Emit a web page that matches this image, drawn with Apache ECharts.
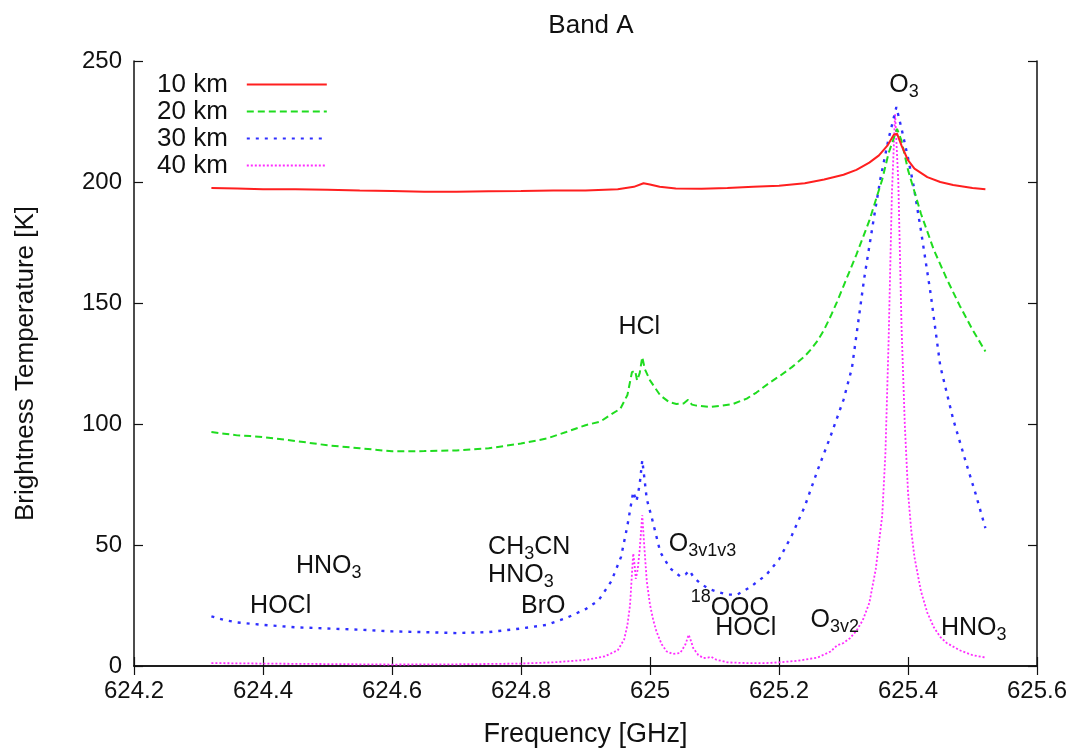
<!DOCTYPE html>
<html>
<head>
<meta charset="utf-8">
<script src="https://cdn.jsdelivr.net/npm/echarts@6/dist/echarts.min.js"></script>
<style>
html,body{margin:0;padding:0;background:#fff;}
#chart{width:1083px;height:753px;}
</style>
</head>
<body>
<div id="chart"></div>
<script>
// ---- data (frequency GHz, brightness temperature K) ----
var seriesNames = ['10 km', '20 km', '30 km', '40 km'];

var km10 = [
 [624.32,197.5],[624.36,197.3],[624.40,197.0],[624.45,197.0],[624.50,196.8],[624.55,196.5],
 [624.60,196.3],[624.65,196.0],[624.70,196.0],[624.75,196.2],[624.80,196.3],[624.85,196.5],
 [624.90,196.5],[624.95,197.0],[624.975,198.0],[624.99,199.5],[625.00,199.0],[625.015,198.0],
 [625.04,197.3],[625.08,197.2],[625.12,197.5],[625.16,198.0],[625.20,198.5],[625.24,199.5],
 [625.27,201.0],[625.30,203.0],[625.32,205.0],[625.34,208.0],[625.355,211.0],[625.368,215.0],
 [625.378,219.5],[625.383,220.0],[625.39,215.0],[625.40,209.0],[625.41,205.5],[625.43,202.0],
 [625.45,200.0],[625.47,198.8],[625.50,197.5],[625.52,197.0]
];

var km20 = [
 [624.32,96.7],[624.34,96.0],[624.36,95.3],[624.38,95.0],[624.40,94.6],[624.45,93.0],
 [624.50,91.2],[624.55,90.0],[624.60,88.7],[624.65,88.8],[624.70,89.1],[624.75,90.0],
 [624.80,91.9],[624.84,94.0],[624.87,96.7],[624.90,99.5],[624.923,101.0],[624.94,104.0],
 [624.954,106.3],[624.965,112.0],[624.972,121.4],[624.977,122.0],[624.98,118.0],[624.984,121.0],
 [624.988,127.6],[624.992,122.7],[625.00,118.0],[625.016,111.8],[625.03,109.0],[625.041,108.3],
 [625.052,108.5],[625.059,110.0],[625.065,108.0],[625.072,107.6],[625.093,107.0],[625.11,107.5],
 [625.129,108.3],[625.15,110.5],[625.165,113.0],[625.185,117.0],[625.202,120.0],[625.22,123.5],
 [625.24,128.0],[625.25,131.0],[625.26,134.5],[625.27,139.0],[625.28,144.5],[625.29,150.5],
 [625.30,157.0],[625.32,170.0],[625.34,184.0],[625.36,201.0],[625.37,212.0],[625.383,222.0],
 [625.39,217.0],[625.40,205.0],[625.42,187.0],[625.44,172.0],[625.46,160.0],[625.48,149.0],
 [625.50,139.0],[625.52,130.0]
];

var km30 = [
 [624.32,20.5],[624.34,19.0],[624.36,18.0],[624.38,17.5],[624.40,17.0],[624.45,16.0],
 [624.50,15.5],[624.55,15.0],[624.60,14.3],[624.65,14.0],[624.70,13.6],[624.75,14.0],
 [624.80,15.5],[624.84,17.0],[624.87,19.8],[624.90,23.5],[624.92,27.0],[624.94,35.0],
 [624.955,45.0],[624.965,58.0],[624.974,72.0],[624.979,68.0],[624.984,75.0],[624.988,85.0],
 [624.992,76.0],[624.995,69.0],[625.003,61.0],[625.016,47.0],[625.031,40.4],[625.047,37.0],
 [625.055,37.8],[625.061,39.5],[625.068,36.5],[625.078,34.2],[625.09,32.0],[625.103,30.8],
 [625.12,29.5],[625.135,29.5],[625.155,32.5],[625.18,37.6],[625.20,44.0],[625.22,54.0],
 [625.24,66.0],[625.26,81.0],[625.28,95.0],[625.30,110.0],[625.313,123.0],[625.332,160.0],
 [625.347,185.0],[625.357,201.0],[625.37,218.0],[625.382,231.0],[625.39,222.0],[625.40,210.0],
 [625.409,198.0],[625.42,180.0],[625.435,154.0],[625.45,124.0],[625.47,102.0],[625.49,84.0],
 [625.505,71.0],[625.52,57.0]
];

var km40 = [
 [624.32,1.2],[624.40,1.0],[624.50,0.8],[624.60,0.6],[624.70,0.7],[624.80,1.0],
 [624.85,1.5],[624.90,2.5],[624.93,4.0],[624.95,6.5],[624.96,11.0],[624.965,17.0],
 [624.969,25.0],[624.972,38.0],[624.974,46.5],[624.976,42.0],[624.978,36.0],[624.981,40.0],
 [624.984,48.0],[624.988,62.3],[624.991,50.0],[624.995,35.0],[625.00,25.3],[625.005,19.0],
 [625.01,14.3],[625.018,9.0],[625.026,6.0],[625.035,5.0],[625.047,5.4],[625.055,9.0],
 [625.06,12.9],[625.064,10.0],[625.067,7.4],[625.075,4.5],[625.083,3.3],[625.09,3.5],
 [625.095,3.8],[625.103,2.6],[625.12,1.5],[625.15,1.2],[625.18,1.2],[625.20,1.5],
 [625.23,2.2],[625.26,3.5],[625.28,6.0],[625.29,8.5],[625.30,9.5],[625.31,11.5],
 [625.32,14.5],[625.33,19.0],[625.34,26.0],[625.35,40.0],[625.36,62.0],[625.365,88.0],
 [625.37,135.0],[625.375,195.0],[625.38,228.0],[625.385,200.0],[625.39,140.0],[625.395,100.0],
 [625.40,72.0],[625.405,56.0],[625.41,45.0],[625.42,31.0],[625.43,22.0],[625.44,16.0],
 [625.45,12.0],[625.46,9.5],[625.48,6.5],[625.50,4.5],[625.52,3.5]
];

// line annotations: [frequency, temperature, rich text] (left edge, vertical middle)
var annotations = [
 [625.371, 240.0, '{b|O}{s|3}'],
 [624.951, 140.0, '{b|HCl}'],
 [625.029, 50.2, '{b|O}{s|3v1v3}'],
 [624.749, 49.0, '{b|CH}{s|3}{b|CN}'],
 [624.749, 37.5, '{b|HNO}{s|3}'],
 [624.800, 24.7, '{b|BrO}'],
 [624.451, 41.2, '{b|HNO}{s|3}'],
 [624.380, 24.7, '{b|HOCl}'],
 [625.063, 23.9, '{p|18}{c|OOO}'],
 [625.101, 15.7, '{b|HOCl}'],
 [625.249, 18.9, '{b|O}{s|3v2}'],
 [625.451, 15.7, '{b|HNO}{s|3}']
];

var xTicks = {min: 624.2, max: 625.6, step: 0.2};
var yTicks = {min: 0, max: 250, step: 50};

// ---- chart ----
var FONT = 'Liberation Sans, Arial, Helvetica, sans-serif';
var TXT = '#111111';
var colors = ['#ff1f1f', '#1fdc1f', '#2f2fff', '#ff2cff'];
var dashes = ['solid', [7, 4], [3, 6], [2, 2]];
var widths = [2, 2, 2.4, 1.8];
var dataSets = [km10, km20, km30, km40];

var chart = echarts.init(document.getElementById('chart'), null, {renderer: 'canvas'});

var series = dataSets.map(function (d, i) {
  return {
    name: seriesNames[i], type: 'line', data: d,
    symbol: 'none', showSymbol: false, smooth: false,
    lineStyle: {color: colors[i], width: widths[i], type: dashes[i]},
    itemStyle: {color: colors[i]},
    z: 2 + (3 - i)
  };
});

series.push({
  name: 'labels', type: 'scatter', symbolSize: 0, silent: true, z: 10,
  itemStyle: {opacity: 1},
  data: annotations.map(function (a) { return {value: [a[0], a[1]], txt: a[2]}; }),
  label: {
    show: true, position: 'right', distance: 0,
    formatter: function (p) { return p.data.txt; },
    rich: {
      b: {fontSize: 25, fontFamily: FONT, color: TXT, lineHeight: 32},
      s: {fontSize: 18, fontFamily: FONT, color: TXT, lineHeight: 16, verticalAlign: 'bottom'},
      c: {fontSize: 25, fontFamily: FONT, color: TXT, lineHeight: 40},
      p: {fontSize: 18, fontFamily: FONT, color: TXT, lineHeight: 14, verticalAlign: 'top'}
    }
  }
});

var axisLine = {show: true, lineStyle: {color: '#111', width: 1.5}};
var tick = {show: true, inside: true, length: 9, lineStyle: {color: '#111', width: 1.2}};

chart.setOption({
  animation: false,
  backgroundColor: '#fff',
  title: {
    text: 'Band A', left: 586, top: 8, textAlign: 'center',
    textStyle: {fontFamily: FONT, fontSize: 26, fontWeight: 'normal', color: TXT}
  },
  grid: {left: 134, right: 46, top: 61, bottom: 85, containLabel: false},
  legend: {
    data: seriesNames, orient: 'vertical', left: 157, top: 71, padding: 0,
    align: 'right', itemWidth: 80, itemHeight: 14, itemGap: 0,
    itemStyle: {color: 'rgba(0,0,0,0)', borderWidth: 0, opacity: 0},
    textStyle: {fontFamily: FONT, fontSize: 26, color: TXT, lineHeight: 27, padding: [0, 14, 0, 0]}
  },
  xAxis: [{
    type: 'value', min: xTicks.min, max: xTicks.max, interval: xTicks.step,
    position: 'bottom',
    name: 'Frequency [GHz]', nameLocation: 'middle', nameGap: 55,
    nameTextStyle: {fontFamily: FONT, fontSize: 27, color: TXT},
    axisLine: axisLine, axisTick: tick, splitLine: {show: false},
    axisLabel: {fontFamily: FONT, fontSize: 24, color: TXT, margin: 13, showMinLabel: true, showMaxLabel: true}
  }, {
    type: 'value', min: xTicks.min, max: xTicks.max, interval: xTicks.step,
    position: 'top', axisLine: axisLine, axisTick: tick, splitLine: {show: false},
    axisLabel: {show: false}
  }],
  yAxis: [{
    type: 'value', min: yTicks.min, max: yTicks.max, interval: yTicks.step,
    position: 'left',
    name: 'Brightness Temperature [K]', nameLocation: 'middle', nameGap: 95, nameRotate: 90,
    nameTextStyle: {fontFamily: FONT, fontSize: 26, color: TXT},
    axisLine: axisLine, axisTick: tick, splitLine: {show: false},
    axisLabel: {fontFamily: FONT, fontSize: 24, color: TXT, margin: 12}
  }, {
    type: 'value', min: yTicks.min, max: yTicks.max, interval: yTicks.step,
    position: 'right', axisLine: axisLine, axisTick: tick, splitLine: {show: false},
    axisLabel: {show: false}
  }],
  series: series
});
</script>
</body>
</html>
